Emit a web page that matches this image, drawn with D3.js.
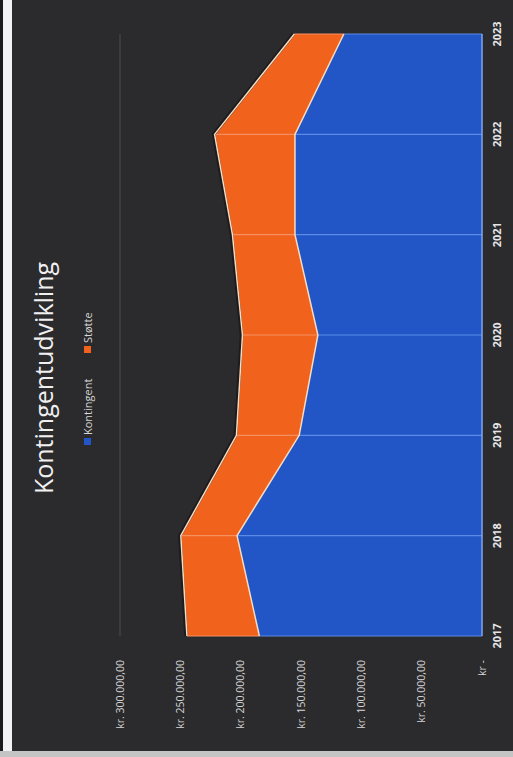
<!DOCTYPE html>
<html><head><meta charset="utf-8">
<script src="https://cdn.jsdelivr.net/npm/d3@7/dist/d3.min.js"></script>
<style>html,body{margin:0;padding:0;background:#2b2a2d;}svg{display:block;}</style>
</head><body>
<svg id="c" width="513" height="757"></svg>
<script>
const years = ["2017","2018","2019","2020","2021","2022","2023"];
const kontingent = [184500, 203000, 151500, 136000, 155000, 155000, 114500];
const stotte = [60000, 46600, 52000, 62500, 51800, 66600, 41000];
const seriesNames = ["Kontingent", "Støtte"];
const seriesColors = ["#2256c6", "#f1621c"];
const tickValues = [0, 50000, 100000, 150000, 200000, 250000, 300000];
const tickLabels = ["kr -", "kr. 50.000,00", "kr. 100.000,00", "kr. 150.000,00", "kr. 200.000,00", "kr. 250.000,00", "kr. 300.000,00"];
const title = "Kontingentudvikling";

const svg = d3.select("#c");
// border decorations of the scan
svg.append("rect").attr("x",0).attr("y",0).attr("width",513).attr("height",757).attr("fill","#2b2a2d");
svg.append("rect").attr("x",0).attr("y",0).attr("width",3).attr("height",757).attr("fill","#1a1a1c");
svg.append("rect").attr("x",3).attr("y",0).attr("width",9).attr("height",757).attr("fill","#f2f2f2");
svg.append("rect").attr("x",0).attr("y",751).attr("width",513).attr("height",6).attr("fill","#c4c4c4");

const g = svg.append("g").attr("transform", `translate(0,757) rotate(-90)`);

const x = d3.scalePoint().domain(years).range([121, 723]);
const y = d3.scaleLinear().domain([0, 300000]).range([482, 120]);

const data = years.map((yr, i) => ({year: yr, Kontingent: kontingent[i], "Støtte": stotte[i]}));
const stack = d3.stack().keys(seriesNames)(data);

// top gridline (the others are not visible in the picture)
const topTick = tickValues[tickValues.length - 1];
g.append("line")
  .attr("x1", x(years[0])).attr("x2", x(years[years.length-1]))
  .attr("y1", y(topTick)).attr("y2", y(topTick))
  .attr("stroke", "#4c4b50").attr("stroke-width", 1);

const area = d3.area().x(d => x(d.data.year)).y0(d => y(d[0])).y1(d => y(d[1]));
g.selectAll(".area").data(stack).enter().append("path")
  .attr("d", area).attr("fill", (d, i) => seriesColors[i]);

// category lines over the areas
years.forEach((yr, i) => {
  g.append("line").attr("x1", x(yr)).attr("x2", x(yr))
    .attr("y1", y(0)).attr("y2", y(kontingent[i]))
    .attr("stroke", "#5b8be6").attr("stroke-width", 1.2);
  g.append("line").attr("x1", x(yr)).attr("x2", x(yr))
    .attr("y1", y(kontingent[i])).attr("y2", y(kontingent[i] + stotte[i]))
    .attr("stroke", "#f59061").attr("stroke-width", 1.2);
});

// outlines
const line = d3.line().x(d => x(d.data.year)).y(d => y(d[1]));
g.selectAll(".shadow").data(stack.slice(1)).enter().append("path")
  .attr("d", line).attr("fill", "none").attr("stroke", "#1c1b1e").attr("stroke-width", 3.5)
  .attr("transform", "translate(0,-1)");
g.selectAll(".edge").data(stack).enter().append("path")
  .attr("d", line).attr("fill", "none").attr("stroke", "#f6dcc0").attr("stroke-width", 1.5);
g.append("line").attr("x1", x(years[0])).attr("x2", x(years[years.length-1]))
  .attr("y1", y(0)).attr("y2", y(0)).attr("stroke", "#7fa6ee").attr("stroke-width", 1.5);

// value axis labels
g.selectAll(".yl").data(tickValues).enter().append("text")
  .attr("x", 97).attr("y", d => y(d)).attr("dy", "0.35em")
  .attr("text-anchor", "end").attr("fill", "#d6d6d6")
  .attr("font-family", "'Open Sans', sans-serif").attr("font-size", 10.5)
  .text((d, i) => tickLabels[i]);

// category axis labels
g.selectAll(".xl").data(years).enter().append("text")
  .attr("x", d => x(d)).attr("y", 501)
  .attr("text-anchor", "middle").attr("fill", "#e6e6e6")
  .attr("font-family", "'Open Sans', sans-serif").attr("font-weight", "bold").attr("font-size", 11)
  .text(d => d);

// title
g.append("text").attr("x", 379).attr("y", 53).attr("text-anchor", "middle")
  .attr("fill", "#f0f0f0").attr("font-family", "'Open Sans', sans-serif").attr("font-size", 25)
  .text(title);

// legend
const lg = g.append("g").attr("transform", "translate(312,88)");
const items = [{n: seriesNames[0], c: seriesColors[0], x: 0}, {n: seriesNames[1], c: seriesColors[1], x: 92}];
items.forEach(it => {
  lg.append("rect").attr("x", it.x).attr("y", -4).attr("width", 7).attr("height", 7).attr("fill", it.c);
  lg.append("text").attr("x", it.x + 10).attr("y", 0).attr("dy", "0.35em")
    .attr("fill", "#d6d6d6").attr("font-family", "'Open Sans', sans-serif").attr("font-size", 11).text(it.n);
});
</script>
</body></html>
